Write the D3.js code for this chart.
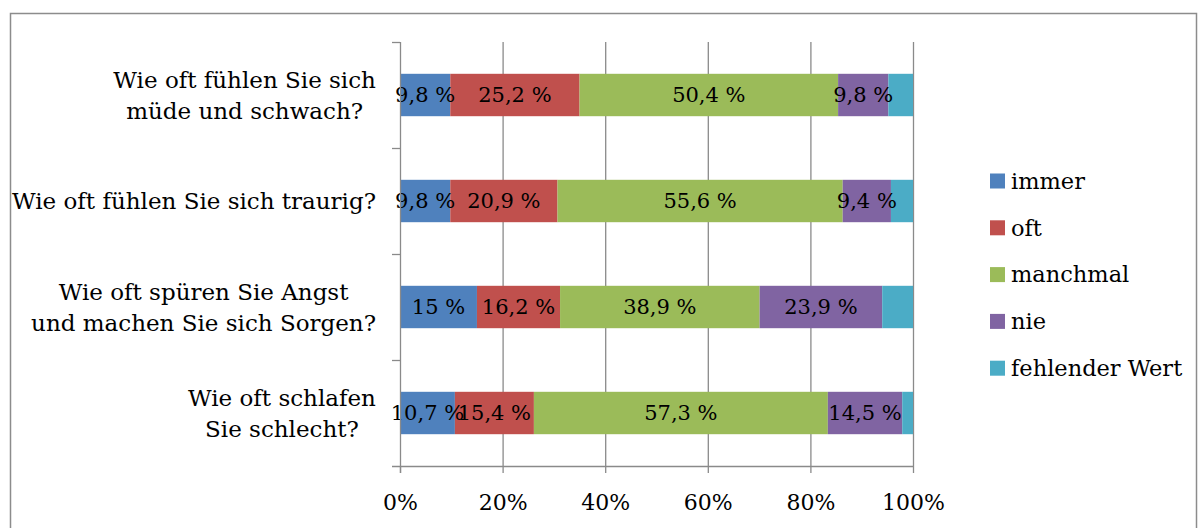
<!DOCTYPE html>
<html><head><meta charset="utf-8">
<script src="https://cdn.jsdelivr.net/npm/d3@7"></script>
<style>body{margin:0;background:#fff;} svg{display:block;}</style>
</head><body>
<svg id="chart" width="1198" height="528"></svg>
<script>
const categories = [
  ["Wie oft fühlen Sie sich", "müde und schwach?"],
  ["Wie oft fühlen Sie sich traurig?"],
  ["Wie oft spüren Sie Angst", "und machen Sie sich Sorgen?"],
  ["Wie oft schlafen", "Sie schlecht?"]
];
const seriesNames = ["immer", "oft", "manchmal", "nie", "fehlender Wert"];
const immer = [9.8, 9.8, 15, 10.7];
const oft = [25.2, 20.9, 16.2, 15.4];
const manchmal = [50.4, 55.6, 38.9, 57.3];
const nie = [9.8, 9.4, 23.9, 14.5];
const fehlenderWert = [4.8, 4.3, 6.0, 2.1];
const labelled = [true, true, true, true, false];
const seriesColors = ["#4F81BD", "#C0504D", "#9BBB59", "#8064A2", "#4BACC6"];
const xTicks = [0, 20, 40, 60, 80, 100];

const font = "'DejaVu Serif', serif";
const svg = d3.select("#chart");
const seriesValues = [immer, oft, manchmal, nie, fehlenderWert];

// outer frame
svg.append("rect").attr("x", 10.5).attr("y", 13.5).attr("width", 1186).attr("height", 530)
  .attr("fill", "none").attr("stroke", "#8c8c8c").attr("stroke-width", 1.5);

const pLeft = 400, pRight = 913, pTop = 42, pBottom = 466;
const x = d3.scaleLinear().domain([0, 100]).range([pLeft, pRight]);
const y = d3.scaleBand().domain(d3.range(categories.length)).range([pTop, pBottom]).paddingInner(0.6).paddingOuter(0.3);
const yOuter = d3.scaleBand().domain(d3.range(categories.length)).range([pTop, pBottom]);

// gridlines
svg.append("g").selectAll("line").data(xTicks.slice(1)).join("line")
  .attr("x1", d => x(d) + 0.5).attr("x2", d => x(d) + 0.5)
  .attr("y1", pTop).attr("y2", pBottom)
  .attr("stroke", "#8a8a8a").attr("stroke-width", 1.3);

// stacked data
const rows = categories.map((c, i) => {
  const obj = {i};
  seriesNames.forEach((s, k) => obj[s] = seriesValues[k][i]);
  return obj;
});
const stack = d3.stack().keys(seriesNames)(rows);

const gBars = svg.append("g");
stack.forEach((layer, k) => {
  gBars.append("g").selectAll("rect").data(layer).join("rect")
    .attr("x", d => x(d[0])).attr("width", d => x(d[1]) - x(d[0]))
    .attr("y", d => y(d.data.i)).attr("height", y.bandwidth())
    .attr("fill", seriesColors[k]);
});
// labels
stack.forEach((layer, k) => {
  if (!labelled[k]) return;
  svg.append("g").selectAll("text").data(layer).join("text")
    .attr("x", d => (x(d[0]) + x(d[1])) / 2)
    .attr("y", d => y(d.data.i) + y.bandwidth() / 2)
    .attr("dy", "0.35em")
    .attr("text-anchor", "middle")
    .attr("font-family", font).attr("font-size", 21).attr("fill", "#000")
    .text(d => String(seriesValues[k][d.data.i]).replace(".", ",") + " %");
});

// x axis
const xAxis = d3.axisBottom(x).tickValues(xTicks).tickFormat(d => d + "%").tickSize(7).tickPadding(21);
const gx = svg.append("g").attr("transform", `translate(0,${pBottom})`).call(xAxis);
gx.select(".domain").attr("stroke", "#8a8a8a").attr("stroke-width", 1.3).attr("d", `M${pLeft - 8},0.5H${pRight + 0.5}`);
gx.selectAll(".tick line").attr("stroke", "#8a8a8a").attr("stroke-width", 1.3);
gx.selectAll(".tick text").attr("font-family", font).attr("font-size", 22).attr("fill", "#000");

// y axis line + ticks at band boundaries
const gy = svg.append("g");
gy.append("line").attr("x1", pLeft + 0.5).attr("x2", pLeft + 0.5).attr("y1", pTop).attr("y2", pBottom + 7)
  .attr("stroke", "#8a8a8a").attr("stroke-width", 1.3);
const boundaries = d3.range(categories.length).map(i => yOuter(i));
gy.selectAll("line.t").data(boundaries).join("line").attr("class", "t")
  .attr("x1", pLeft - 8).attr("x2", pLeft).attr("y1", d => d + 0.5).attr("y2", d => d + 0.5)
  .attr("stroke", "#8a8a8a").attr("stroke-width", 1.3);

// category labels
const labelRight = 376;
categories.forEach((lines, i) => {
  const cy = yOuter(i) + yOuter.bandwidth() / 2;
  const g = svg.append("g");
  const t = g.append("text").attr("font-family", font).attr("font-size", 23).attr("fill", "#000").attr("text-anchor", "middle");
  lines.forEach((ln, j) => {
    t.append("tspan").attr("x", 0).attr("y", cy + (j - (lines.length - 1) / 2) * 31).attr("dy", "0.35em").text(ln);
  });
  const w = t.node().getBBox().width;
  g.attr("transform", `translate(${labelRight - w / 2},0)`);
});

// legend
const legend = svg.append("g");
seriesNames.forEach((s, k) => {
  const cy = 181 + k * 46.8;
  legend.append("rect").attr("x", 990).attr("y", cy - 7.5).attr("width", 15).attr("height", 15).attr("fill", seriesColors[k]);
  legend.append("text").attr("x", 1011).attr("y", cy).attr("dy", "0.35em")
    .attr("font-family", font).attr("font-size", 22.5).attr("fill", "#000").text(s);
});
</script>
</body></html>
